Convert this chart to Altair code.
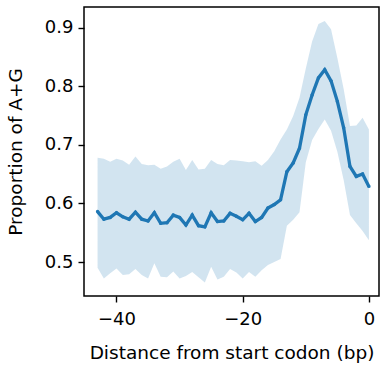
import altair as alt
import pandas as pd

xs = list(range(-43, 1))
mean = [0.586, 0.573, 0.576, 0.584, 0.577, 0.573, 0.585, 0.573, 0.570, 0.584,
        0.566, 0.567, 0.580, 0.576, 0.563, 0.580, 0.562, 0.560, 0.584, 0.569,
        0.570, 0.583, 0.578, 0.572, 0.583, 0.569, 0.576, 0.592, 0.598, 0.606,
        0.654, 0.669, 0.694, 0.751, 0.785, 0.814, 0.828, 0.809, 0.774, 0.729,
        0.663, 0.646, 0.650, 0.629]
lower = [0.490, 0.472, 0.481, 0.489, 0.478, 0.479, 0.488, 0.478, 0.472, 0.498,
         0.475, 0.474, 0.484, 0.472, 0.476, 0.483, 0.474, 0.465, 0.492, 0.470,
         0.475, 0.488, 0.482, 0.472, 0.483, 0.475, 0.486, 0.495, 0.500, 0.505,
         0.562, 0.572, 0.585, 0.670, 0.708, 0.727, 0.743, 0.724, 0.688, 0.640,
         0.580, 0.566, 0.553, 0.537]
upper = [0.678, 0.676, 0.671, 0.676, 0.673, 0.666, 0.680, 0.667, 0.665, 0.666,
         0.659, 0.663, 0.671, 0.676, 0.657, 0.674, 0.658, 0.659, 0.674, 0.667,
         0.665, 0.674, 0.673, 0.672, 0.670, 0.672, 0.664, 0.674, 0.689, 0.709,
         0.726, 0.749, 0.780, 0.830, 0.876, 0.906, 0.911, 0.897, 0.848, 0.795,
         0.732, 0.733, 0.746, 0.726]
x_ticks = [-40, -20, 0]
y_ticks = [0.5, 0.6, 0.7, 0.8, 0.9]

df = pd.DataFrame({"x": xs, "mean": mean, "lower": lower, "upper": upper})

xscale = alt.Scale(domain=[-45.15, 1.6], nice=False, zero=False)
yscale = alt.Scale(domain=[0.442, 0.935], nice=False, zero=False)

common = dict(grid=False, domain=False, tickColor="black", tickWidth=1.4, tickSize=6,
              labelFontSize=18, labelColor="black", labelFont="DejaVu Sans",
              titleFontSize=18.5, titleFont="DejaVu Sans",
              titleFontWeight="normal", titleColor="black")
xaxis = alt.Axis(values=x_ticks, format="d", title="Distance from start codon (bp)",
                 labelPadding=8, titlePadding=15, **common)
yaxis = alt.Axis(values=y_ticks, format=".1f", title="Proportion of A+G",
                 labelPadding=5, titlePadding=19, **common)

band = alt.Chart(df).mark_area(color="#1f77b4", opacity=0.2).encode(
    x=alt.X("x:Q", scale=xscale, axis=xaxis),
    y=alt.Y("lower:Q", scale=yscale, axis=yaxis),
    y2="upper:Q",
)
line = alt.Chart(df).mark_line(color="#1f77b4", strokeWidth=3.3,
                               point=alt.OverlayMarkDef(color="#1f77b4", size=12)).encode(
    x=alt.X("x:Q", scale=xscale),
    y=alt.Y("mean:Q", scale=yscale),
)

chart = alt.layer(band, line).properties(
    width=295, height=289,
    autosize=alt.AutoSizeParams(type="none"),
    padding={"left": 84, "top": 7, "right": 3, "bottom": 73},
).configure_view(stroke="black", strokeWidth=1.5)

chart.save("out.html", embed_options={"renderer": "svg", "actions": False})
